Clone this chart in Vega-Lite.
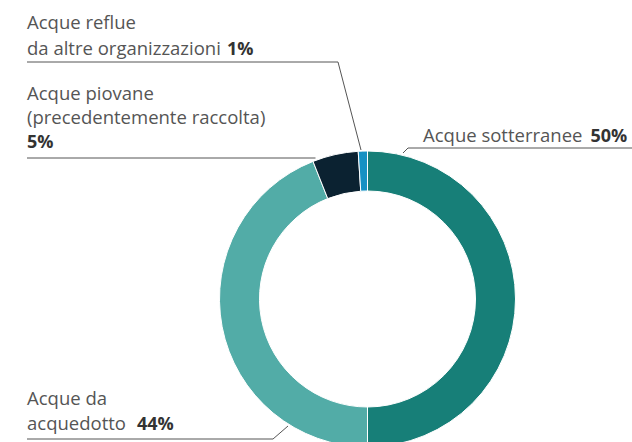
{
  "$schema": "https://vega.github.io/schema/vega-lite/v6.json",
  "width": 632,
  "height": 442,
  "autosize": {"type": "none"},
  "padding": 0,
  "background": "white",
  "config": {"view": {"stroke": null}},
  "datasets": {
    "slices": [
      {"cat": "Acque sotterranee", "value": 50, "k": 1},
      {"cat": "Acque da acquedotto", "value": 44, "k": 2},
      {"cat": "Acque piovane (precedentemente raccolta)", "value": 5, "k": 3},
      {"cat": "Acque reflue da altre organizzazioni", "value": 1, "k": 4}
    ],
    "leaders": [
      {"seg": "reflue", "p": 1, "gx": -340.5, "gy": 237},
      {"seg": "reflue", "p": 2, "gx": -29.5, "gy": 237},
      {"seg": "reflue", "p": 3, "gx": -6.5, "gy": 149},
      {"seg": "piovane", "p": 1, "gx": -340.5, "gy": 141},
      {"seg": "piovane", "p": 2, "gx": -52, "gy": 141},
      {"seg": "sotterranee", "p": 1, "gx": 264.5, "gy": 151},
      {"seg": "sotterranee", "p": 2, "gx": 40.5, "gy": 151},
      {"seg": "sotterranee", "p": 3, "gx": 35.5, "gy": 146},
      {"seg": "acquedotto", "p": 1, "gx": -340.5, "gy": -140},
      {"seg": "acquedotto", "p": 2, "gx": -94.5, "gy": -140},
      {"seg": "acquedotto", "p": 3, "gx": -79.5, "gy": -127}
    ],
    "texts": [
      {"t": "Acque reflue", "bold": false, "gx": -340.5, "gy": 270},
      {"t": "da altre organizzazioni", "bold": false, "gx": -340.5, "gy": 244},
      {"t": "1%", "bold": true, "gx": -140.5, "gy": 244},
      {"t": "Acque piovane", "bold": false, "gx": -340.5, "gy": 199},
      {"t": "(precedentemente raccolta)", "bold": false, "gx": -340.5, "gy": 175},
      {"t": "5%", "bold": true, "gx": -340.5, "gy": 151},
      {"t": "Acque da", "bold": false, "gx": -340.5, "gy": -106},
      {"t": "acquedotto", "bold": false, "gx": -340.5, "gy": -131},
      {"t": "44%", "bold": true, "gx": -230.5, "gy": -131},
      {"t": "Acque sotterranee", "bold": false, "gx": 55.5, "gy": 157},
      {"t": "50%", "bold": true, "gx": 223, "gy": 157}
    ]
  },
  "layer": [
    {
      "data": {"name": "slices"},
      "mark": {"type": "arc", "outerRadius": 148, "innerRadius": 108, "stroke": "white", "strokeWidth": 1},
      "encoding": {
        "theta": {"field": "value", "type": "quantitative", "stack": true},
        "order": {"field": "k", "type": "quantitative"},
        "color": {
          "field": "cat",
          "type": "nominal",
          "scale": {
            "domain": ["Acque sotterranee", "Acque da acquedotto", "Acque piovane (precedentemente raccolta)", "Acque reflue da altre organizzazioni"],
            "range": ["#177f78", "#52aca7", "#0b2231", "#1591c3"]
          },
          "legend": null
        },
        "x": {"datum": 0, "type": "quantitative", "scale": {"domain": [-367.5, 264.5], "nice": false, "zero": false}, "axis": null},
        "y": {"datum": 0, "type": "quantitative", "scale": {"domain": [-143, 299], "nice": false, "zero": false}, "axis": null}
      }
    },
    {
      "data": {"name": "leaders"},
      "mark": {"type": "line", "color": "#555555", "strokeWidth": 1},
      "encoding": {
        "x": {"field": "gx", "type": "quantitative", "axis": null},
        "y": {"field": "gy", "type": "quantitative", "axis": null},
        "detail": {"field": "seg", "type": "nominal"},
        "order": {"field": "p", "type": "quantitative"}
      }
    },
    {
      "data": {"name": "texts"},
      "transform": [{"filter": "!datum.bold"}],
      "mark": {"type": "text", "align": "left", "baseline": "alphabetic", "font": "Open Sans", "fontSize": 18.5, "color": "#555555"},
      "encoding": {
        "x": {"field": "gx", "type": "quantitative", "axis": null},
        "y": {"field": "gy", "type": "quantitative", "axis": null},
        "text": {"field": "t", "type": "nominal"}
      }
    },
    {
      "data": {"name": "texts"},
      "transform": [{"filter": "datum.bold"}],
      "mark": {"type": "text", "align": "left", "baseline": "alphabetic", "font": "Open Sans", "fontSize": 18, "fontWeight": "bold", "color": "#333333"},
      "encoding": {
        "x": {"field": "gx", "type": "quantitative", "axis": null},
        "y": {"field": "gy", "type": "quantitative", "axis": null},
        "text": {"field": "t", "type": "nominal"}
      }
    }
  ]
}
